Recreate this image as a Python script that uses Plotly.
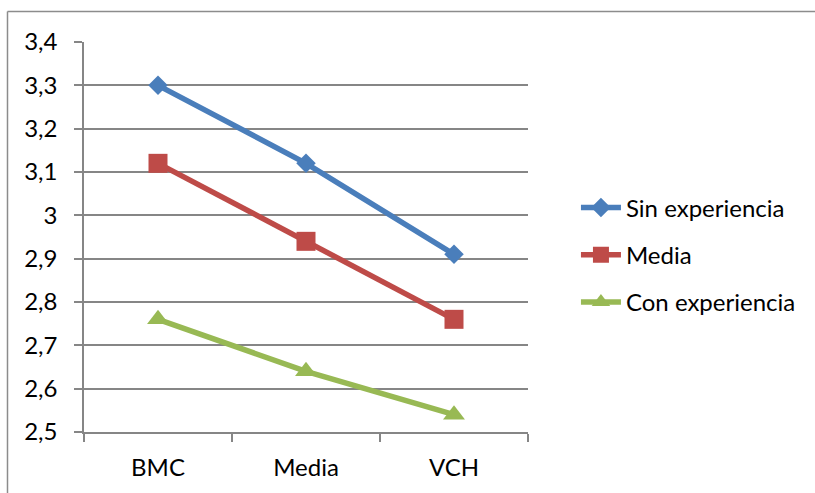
import plotly.graph_objects as go

categories = ["BMC", "Media", "VCH"]
sin_experiencia = [3.30, 3.12, 2.91]
media = [3.12, 2.94, 2.76]
con_experiencia = [2.76, 2.64, 2.54]
y_ticks = [2.5, 2.6, 2.7, 2.8, 2.9, 3.0, 3.1, 3.2, 3.3, 3.4]
y_tick_labels = ["2,5", "2,6", "2,7", "2,8", "2,9", "3", "3,1", "3,2", "3,3", "3,4"]

FONT = "Lato"
FSIZE = 24
GRID = "#868686"

series = [
    ("Sin experiencia", sin_experiencia, "#4A7EBB", "diamond", 15),
    ("Media", media, "#BE4B48", "square", 19),
    ("Con experiencia", con_experiencia, "#98B954", "triangle-up", 19),
]

fig = go.Figure()
for name, vals, color, symbol, size in series:
    fig.add_trace(go.Scatter(
        x=categories, y=vals, name=name, mode="lines+markers",
        legendgroup=name,
        line=dict(color=color, width=5.5),
        marker=dict(symbol=symbol, size=size, color=color, line=dict(width=0)),
    ))

# Chart-area frame (top and left edges)
fig.add_shape(type="line", xref="paper", yref="paper",
              x0=-0.1723, x1=1.7, y0=1.0782, y1=1.0782,
              line=dict(color="#8C8C8C", width=1.5))
fig.add_shape(type="line", xref="paper", yref="paper",
              x0=-0.1723, x1=-0.1723, y0=1.0782, y1=-0.3,
              line=dict(color="#8C8C8C", width=1.5))

fig.update_layout(
    width=815, height=493,
    margin=dict(l=84, r=287, t=42, b=61),
    paper_bgcolor="white", plot_bgcolor="white",
    font=dict(family=FONT, size=FSIZE, color="black"),
    showlegend=True,
    legend=dict(x=1.108, y=0.454, xanchor="left", yanchor="middle",
                font=dict(family=FONT, size=FSIZE, color="black"),
                tracegroupgap=13, itemwidth=40,
                bgcolor="rgba(0,0,0,0)"),
    xaxis=dict(
        type="category", tickson="boundaries", range=[-0.5, 2.5],
        showline=True, linecolor=GRID, linewidth=1.5,
        ticks="outside", ticklen=8, tickcolor=GRID, tickwidth=1.5,
        showgrid=False, tickfont=dict(family=FONT, size=FSIZE),
        ticklabelstandoff=13,
    ),
    yaxis=dict(
        range=[2.5, 3.4], tickvals=y_ticks, ticktext=y_tick_labels,
        showline=True, linecolor=GRID, linewidth=1.5,
        ticks="outside", ticklen=8, tickcolor=GRID, tickwidth=1.5,
        showgrid=True, gridcolor=GRID, gridwidth=1.5,
        zeroline=False, tickfont=dict(family=FONT, size=FSIZE),
        ticklabelstandoff=12,
    ),
)

fig.write_html("out.html")
